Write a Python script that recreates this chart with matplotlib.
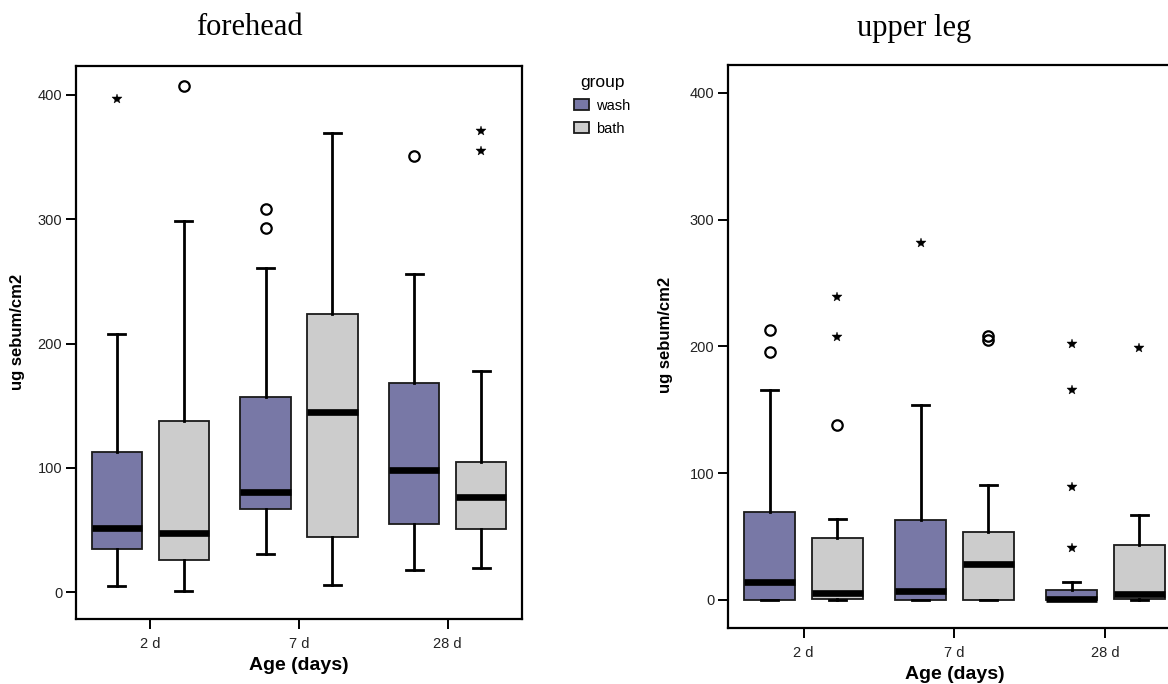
import numpy as np
import matplotlib
matplotlib.use("Agg")
import matplotlib.pyplot as plt
from matplotlib.patches import Patch

plt.rcParams['font.family'] = ['Liberation Sans', 'DejaVu Sans']

ages = ['2 d', '7 d', '28 d']
groups = ['wash', 'bath']
colors = {'wash': '#7878A6', 'bath': '#CCCCCC'}

# five-number summaries per age: (whislo, q1, med, q3, whishi)
forehead_wash = [(5, 35, 51.5, 113, 208), (30.5, 67, 80.5, 157, 261), (18, 55, 98, 168, 256)]
forehead_bath = [(1, 26, 47.5, 138, 298.5), (5.5, 44, 145, 224, 369), (19.5, 51, 76.5, 105, 178)]
leg_wash = [(0, 0, 14, 69.5, 166), (0, 0, 7, 63, 154), (0, 0, 0.5, 8, 14)]
leg_bath = [(0, 1, 5.5, 49, 64), (0, 0, 28.5, 54, 91), (0, 1, 5, 43, 67)]

# outliers (circles) and extremes (stars) per age
forehead_wash_out = [[], [308, 293], [351]]
forehead_wash_ext = [[397], [], []]
forehead_bath_out = [[407], [], []]
forehead_bath_ext = [[], [], [371, 355]]
leg_wash_out = [[213, 196], [], []]
leg_wash_ext = [[], [281.5], [202, 166, 89, 41]]
leg_bath_out = [[138], [208.5, 205.5], []]
leg_bath_ext = [[239, 207.5], [], [199]]

offset = 0.225
width = 0.34


def stats_from(rows):
    return [dict(whislo=r[0], q1=r[1], med=r[2], q3=r[3], whishi=r[4]) for r in rows]


def draw_panel(ax, wash, bath, wash_out, wash_ext, bath_out, bath_ext):
    x = np.arange(len(ages))
    for rows, outs, exts, sign, name in [(wash, wash_out, wash_ext, -1, 'wash'),
                                         (bath, bath_out, bath_ext, 1, 'bath')]:
        pos = x + sign * offset
        ax.bxp(stats_from(rows), positions=pos, widths=width, patch_artist=True,
               showfliers=False, capwidths=width / 3,
               boxprops=dict(facecolor=colors[name], edgecolor='#1a1a1a', linewidth=1.3),
               whiskerprops=dict(color='black', linewidth=2),
               capprops=dict(color='black', linewidth=2),
               medianprops=dict(color='black', linewidth=4.8, solid_capstyle='butt'))
        for p, vals in zip(pos, outs):
            if vals:
                ax.plot([p] * len(vals), vals, linestyle='', marker='o', ms=7.5,
                        mfc='none', mec='black', mew=1.6)
        for p, vals in zip(pos, exts):
            if vals:
                ax.plot([p] * len(vals), vals, linestyle='', marker='*', ms=7.5,
                        color='black', mew=0.3)
    ax.set_xlim(-0.5, 2.5)
    ax.set_xticks(x)
    ax.set_xticklabels(ages)
    ax.set_yticks([0, 100, 200, 300, 400])
    ax.tick_params(direction='out', length=7, width=1.4, labelsize=10.5,
                   labelcolor='#222222', pad=3)
    ax.tick_params(axis='x', pad=6)
    for s in ax.spines.values():
        s.set_linewidth(1.6)
    ax.set_xlabel('Age (days)', fontsize=14, fontweight='bold', labelpad=4)
    ax.set_ylabel('ug sebum/cm2', fontsize=12, fontweight='bold')


fig = plt.figure(figsize=(11.68, 6.84), dpi=100)

ax1 = fig.add_axes([0.0651, 0.0950, 0.3818, 0.8085])
draw_panel(ax1, forehead_wash, forehead_bath, forehead_wash_out, forehead_wash_ext,
           forehead_bath_out, forehead_bath_ext)
ax1.set_ylim(-21.7, 423.3)
ax1.yaxis.set_label_coords(-0.114, 0.52)

ax2 = fig.add_axes([0.6233, 0.0819, 0.3878, 0.8231])
draw_panel(ax2, leg_wash, leg_bath, leg_wash_out, leg_wash_ext, leg_bath_out, leg_bath_ext)
ax2.set_ylim(-22.1, 422.1)
ax2.yaxis.set_label_coords(-0.121, 0.52)

fig.text(0.2132, 0.9488, 'forehead', ha='center', va='baseline',
         family='Liberation Serif', fontsize=22)
fig.text(0.7825, 0.9474, 'upper leg', ha='center', va='baseline',
         family='Liberation Serif', fontsize=22)

handles = [Patch(facecolor=colors[g], edgecolor='#1a1a1a', linewidth=1.3, label=g)
           for g in groups]
leg = fig.legend(handles=handles, title='group', loc='upper left',
                 bbox_to_anchor=(0.483, 0.905), frameon=False, fontsize=10.5,
                 title_fontsize=12.5, handlelength=1.0, handleheight=0.8,
                 handletextpad=0.5, labelspacing=0.6, borderpad=0.2)

fig.savefig('out.png', dpi=100)
